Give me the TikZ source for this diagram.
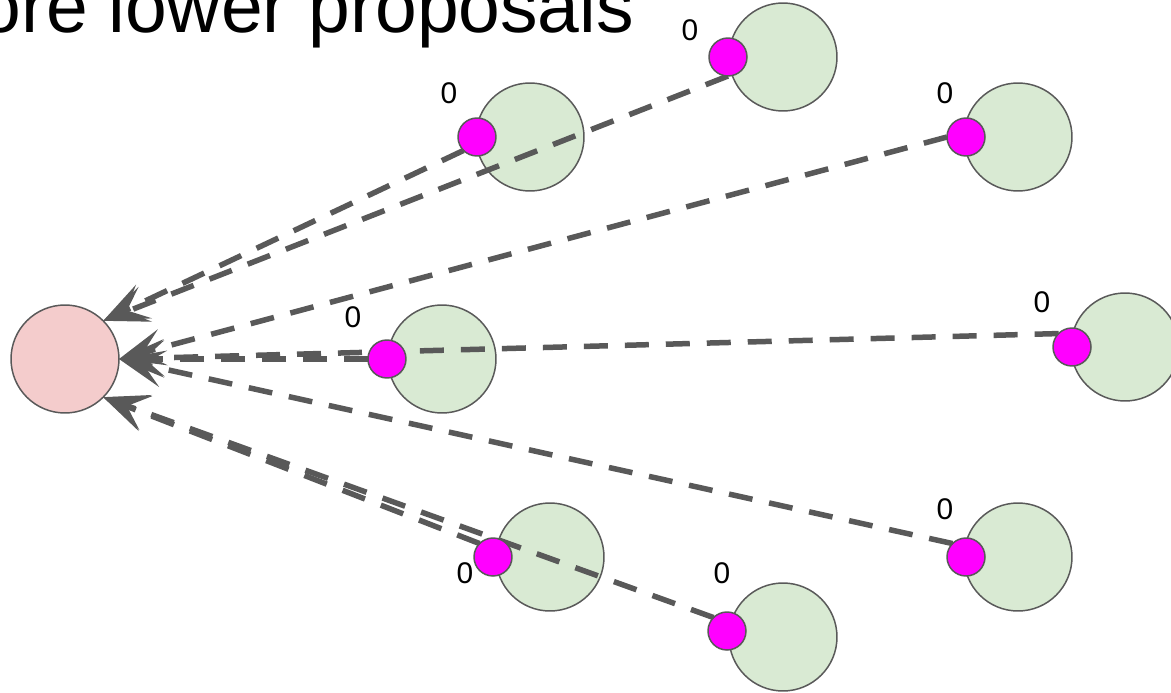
\documentclass[tikz,border=0pt]{standalone}
\usepackage{fontspec}
\setmainfont{Liberation Sans}
\usetikzlibrary{arrows.meta}
\definecolor{propgreen}{HTML}{D9EAD3}
\definecolor{sinkpink}{HTML}{F4CCCC}
\definecolor{edgegray}{HTML}{595959}
\definecolor{knobpink}{HTML}{FF00FF}
\pgfdeclarelayer{front}
\pgfsetlayers{main,front}

\begin{document}
\begin{tikzpicture}[x=0.02cm, y=-0.02cm]
  \tikzstyle{prop} = [draw=edgegray, line width=0.85pt, circle, fill=propgreen, minimum size=2.16cm, inner sep=0pt, outer sep=0pt]
  \tikzstyle{sink} = [prop, fill=sinkpink]
  \tikzstyle{knob} = [draw=edgegray, line width=0.85pt, circle, fill=knobpink, minimum size=0.76cm, inner sep=0pt, outer sep=0pt]
  \tikzstyle{score} = [font=\fontsize{17}{20}\selectfont, inner sep=0pt]
  \tikzstyle{vote} = [edgegray, line width=0.11cm, dash pattern=on 0.48cm off 0.34cm, -{Stealth[length=0.9cm, width=0.74cm, inset=0.4cm]}]
  \useasboundingbox (0,0) rectangle (1171,693);

  \node[anchor=base west, inner sep=0pt, font=\fontsize{42.7}{50}\selectfont] (title) at (-21,32) {ore lower proposals};

  % target and proposals
  \node[sink] (t) at (65,359) {};
  \node[prop] (p1) at (783,57) {};
  \node[prop] (p2) at (530,137) {};
  \node[prop] (p3) at (1018,137) {};
  \node[prop] (p4) at (442,359) {};
  \node[prop] (p5) at (1125,347) {};
  \node[prop] (p6) at (1018,557) {};
  \node[prop] (p7) at (550,557) {};
  \node[prop] (p8) at (783,637) {};

  % magenta handles sit on top of the dashed lines
  \begin{pgfonlayer}{front}
    \node[knob] (m1) at (728,57) {};
    \node[knob] (m2) at (477,137) {};
    \node[knob] (m3) at (966,137) {};
    \node[knob] (m4) at (387,359) {};
    \node[knob] (m5) at (1072,347) {};
    \node[knob] (m6) at (966,557) {};
    \node[knob] (m7) at (493,557) {};
    \node[knob] (m8) at (727,631) {};
  \end{pgfonlayer}

  \node[score] (s1) at (690,30) {0};
  \node[score] (s2) at (449,93) {0};
  \node[score] (s3) at (945,93) {0};
  \node[score] (s4) at (353,317) {0};
  \node[score] (s5) at (1042,302) {0};
  \node[score] (s6) at (945,509) {0};
  \node[score] (s7) at (465,573) {0};
  \node[score] (s8) at (722,573) {0};

  \path
  (m1.south) edge[vote] (t.north east)
  (m2.south west) edge[vote] (t.north east)
  (m3.west) edge[vote] (t.east)
  (m4.west) edge[vote] (t.east)
  (m5.north west) edge[vote] (t.east)
  (m6.north west) edge[vote] (t.east)
  (m7.north west) edge[vote] (t.south east)
  (m8.north west) edge[vote] (t.south east)
  ;
\end{tikzpicture}
\end{document}
